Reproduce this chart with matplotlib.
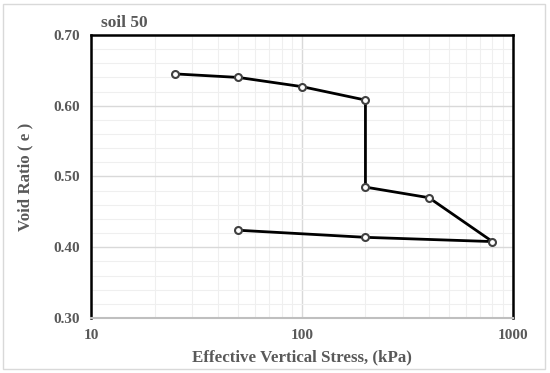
import numpy as np
import matplotlib.pyplot as plt
from matplotlib.patches import Rectangle
from matplotlib.ticker import FixedLocator, NullFormatter

# consolidation curve, soil 50
stress = [25, 50, 100, 200, 200, 400, 800, 200, 50]
void_ratio = [0.645, 0.640, 0.627, 0.608, 0.485, 0.470, 0.408, 0.414, 0.424]

x_ticks = [10, 100, 1000]
x_tick_labels = ["10", "100", "1000"]
y_ticks = [0.30, 0.40, 0.50, 0.60, 0.70]

plt.rcParams['font.family'] = ['Liberation Serif', 'DejaVu Serif']
plt.rcParams['font.weight'] = 'bold'
grey = '#595959'

fig = plt.figure(figsize=(5.5, 3.73), dpi=100)
ax = fig.add_axes([0.1655, 0.1475, 0.767, 0.7587])

# chart border
fig.patches.append(Rectangle((0.006, 0.01), 0.985, 0.98, transform=fig.transFigure,
                             fill=False, edgecolor='#d9d9d9', linewidth=1.0))

ax.plot(stress, void_ratio, color='black', linewidth=2.0, marker='o', markersize=5,
        markerfacecolor='white', markeredgecolor='#404040', markeredgewidth=1.5, zorder=3)

ax.set_xscale('log')
ax.set_xlim(10, 1000)
ax.set_ylim(0.30, 0.70)
ax.set_xticks(x_ticks, x_tick_labels)
minor_x = [m * d for d in (10, 100) for m in range(2, 10)]
ax.xaxis.set_minor_locator(FixedLocator(minor_x))
ax.xaxis.set_minor_formatter(NullFormatter())
ax.set_yticks(y_ticks, [f"{v:.2f}" for v in y_ticks])
ax.yaxis.set_minor_locator(FixedLocator(np.arange(0.30, 0.701, 0.02)))

ax.grid(which='major', color='#d9d9d9', linewidth=1.0)
ax.grid(which='minor', color='#efefef', linewidth=0.8)
ax.set_axisbelow(True)

ax.tick_params(which='both', length=0, colors=grey, labelsize=11, pad=8)
for lab in ax.get_xticklabels() + ax.get_yticklabels():
    lab.set_fontweight('bold')

for side in ('left', 'top', 'right'):
    ax.spines[side].set_color('black')
    ax.spines[side].set_linewidth(1.8)
ax.spines['bottom'].set_color('#bfbfbf')
ax.spines['bottom'].set_linewidth(1.5)

ax.set_xlabel("Effective Vertical Stress, (kPa)", fontsize=12.2, color=grey,
              fontweight='bold', labelpad=5)
ax.set_ylabel("Void Ratio ( e )", fontsize=12.2, color=grey, fontweight='bold', labelpad=14)
ax.text(0.023, 1.015, "soil 50", transform=ax.transAxes, fontsize=12.5, color=grey,
        fontweight='bold', ha='left', va='bottom')

fig.savefig("out.png", dpi=100)
